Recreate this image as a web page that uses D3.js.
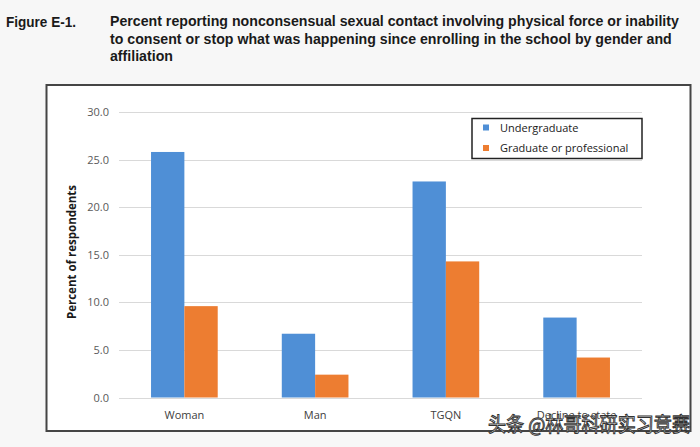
<!DOCTYPE html>
<html>
<head>
<meta charset="utf-8">
<script src="https://cdn.jsdelivr.net/npm/d3@7"></script>
<style>
  html, body { margin: 0; padding: 0; background: #f7f7f7; }
  svg { display: block; }
</style>
</head>
<body>
<div id="chart"></div>
<script>
// ---- Data ----
var categories = ['Woman', 'Man', 'TGQN', 'Decline to state'];
var seriesNames = ['Undergraduate', 'Graduate or professional'];
var undergraduate = [25.8, 6.7, 22.7, 8.4];
var graduate = [9.6, 2.4, 14.3, 4.2];
var yTicks = [0, 5, 10, 15, 20, 25, 30];
var titleLines = [
  'Percent reporting nonconsensual sexual contact involving physical force or inability',
  'to consent or stop what was happening since enrolling in the school by gender and',
  'affiliation'
];

var COLORS = ['#4f8fd6', '#ed7d31'];
var W = 700, H = 447;

var svg = d3.select('#chart').append('svg')
  .attr('width', W).attr('height', H);

svg.append('rect').attr('width', W).attr('height', H).attr('fill', '#f7f7f7');

// ---- Title ----
var titleFont = '"Liberation Sans", Arial, sans-serif';
var fig = svg.append('text')
  .attr('x', 6).attr('y', 26.5)
  .attr('font-family', titleFont).attr('font-weight', 'bold').attr('font-size', 14.5)
  .attr('fill', '#1a1a1a')
  .text('Figure E-1.');
fig.attr('textLength', 70).attr('lengthAdjust', 'spacingAndGlyphs');

var tg = svg.append('g');
var tl = tg.selectAll('text').data(titleLines).enter().append('text')
  .attr('x', 0)
  .attr('y', function (d, i) { return 26.5 + i * 17.3; })
  .attr('font-family', titleFont).attr('font-weight', 'bold').attr('font-size', 14.5)
  .attr('fill', '#1a1a1a')
  .text(function (d) { return d; });
// squeeze to match the condensed face of the original
var natural = tl.nodes()[0].getComputedTextLength();
var sx = 569 / natural;
tg.attr('transform', 'translate(110,0) scale(' + sx + ',1)');

// ---- Chart frame ----
svg.append('rect')
  .attr('x', 46.5).attr('y', 85).attr('width', 644).attr('height', 346)
  .attr('fill', '#ffffff').attr('stroke', '#454545').attr('stroke-width', 2);

// ---- Scales ----
var x0 = d3.scaleBand().domain(categories).range([119, 642])
  .paddingInner(0.49).paddingOuter(0.245);
var x1 = d3.scaleBand().domain(seriesNames).range([0, x0.bandwidth()]);
var y = d3.scaleLinear().domain([0, 30]).range([397.5, 112]);

var labelFont = '"Open Sans", "Liberation Sans", sans-serif';

// gridlines
svg.append('g').selectAll('line').data(yTicks).enter().append('line')
  .attr('x1', 119).attr('x2', 642)
  .attr('y1', function (d) { return Math.round(y(d)) + 0.5; })
  .attr('y2', function (d) { return Math.round(y(d)) + 0.5; })
  .attr('stroke', '#d9d9d9').attr('stroke-width', 1);

// y axis labels
var yAxis = d3.axisLeft(y).tickValues(yTicks).tickFormat(d3.format('.1f')).tickSize(0).tickPadding(0);
var ya = svg.append('g').attr('transform', 'translate(109,0)').call(yAxis);
ya.select('.domain').remove();
ya.selectAll('text')
  .attr('font-family', labelFont).attr('font-size', 11).attr('fill', '#595959');

// y title
svg.append('text')
  .attr('transform', 'translate(76,252) rotate(-90)')
  .attr('text-anchor', 'middle')
  .attr('font-family', labelFont).attr('font-weight', 'bold').attr('font-size', 11.5)
  .attr('fill', '#1a1a1a')
  .text('Percent of respondents');

// ---- Bars ----
var rows = categories.map(function (c, i) {
  return { cat: c, values: [undergraduate[i], graduate[i]] };
});
var groups = svg.append('g').selectAll('g').data(rows).enter().append('g')
  .attr('transform', function (d) { return 'translate(' + x0(d.cat) + ',0)'; });
groups.selectAll('rect')
  .data(function (d) { return d.values.map(function (v, j) { return { s: seriesNames[j], v: v, j: j }; }); })
  .enter().append('rect')
  .attr('x', function (d) { return x1(d.s); })
  .attr('width', x1.bandwidth())
  .attr('y', function (d) { return y(d.v); })
  .attr('height', function (d) { return y(0) - y(d.v); })
  .attr('fill', function (d) { return COLORS[d.j]; });

// category labels
var xAxis = d3.axisBottom(x0).tickSize(0).tickPadding(0);
var xa = svg.append('g').attr('transform', 'translate(0,411)').call(xAxis);
xa.select('.domain').remove();
xa.selectAll('text')
  .attr('font-family', labelFont).attr('font-size', 11).attr('fill', '#404040');

// ---- Legend ----
var lg = svg.append('g');
lg.append('rect')
  .attr('x', 472).attr('y', 118.5).attr('width', 170).attr('height', 40)
  .attr('fill', '#ffffff').attr('stroke', '#222222').attr('stroke-width', 1.5);
var items = lg.selectAll('g.item').data(seriesNames).enter().append('g')
  .attr('class', 'item')
  .attr('transform', function (d, i) { return 'translate(483,' + (127.5 + i * 20.5) + ')'; });
items.append('rect')
  .attr('x', 0).attr('y', -3).attr('width', 6).attr('height', 6)
  .attr('fill', function (d, i) { return COLORS[i]; });
items.append('text')
  .attr('x', 17).attr('y', 4)
  .attr('font-family', labelFont).attr('font-size', 11).attr('fill', '#1a1a1a')
  .text(function (d) { return d; });

// ---- Watermark ----
svg.append('text')
  .attr('x', 488).attr('y', 432)
  .attr('font-family', '"Noto Sans CJK SC", sans-serif').attr('font-size', 20)
  .attr('fill', '#ffffff').attr('stroke', '#333333').attr('stroke-width', 1)
  .attr('textLength', 202).attr('lengthAdjust', 'spacingAndGlyphs')
  .text('头条 @林哥科研实习竞赛');
</script>
</body>
</html>
